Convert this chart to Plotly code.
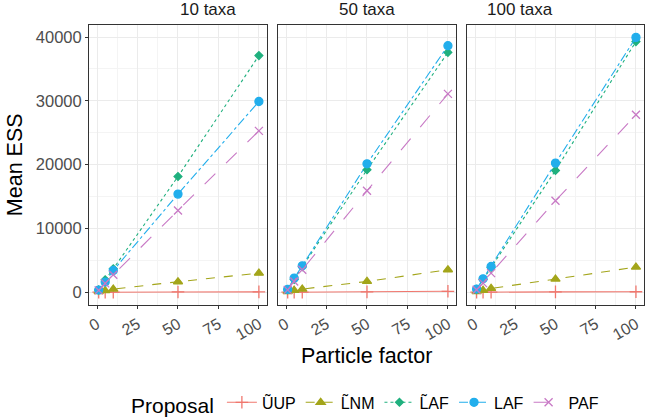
import plotly.graph_objects as go

panels = ["10 taxa", "50 taxa", "100 taxa"]
particle_factor = [1, 5, 10, 50, 100]
proposals = ["\u0168UP", "L\u0303NM", "L\u0303AF", "LAF", "PAF"]

ess_10 = {
    "\u0168UP": [10, 20, 30, 50, 60],
    "L\u0303NM": [100, 250, 500, 1650, 3000],
    "L\u0303AF": [370, 1960, 3680, 18150, 37100],
    "LAF": [350, 1600, 3420, 15390, 29900],
    "PAF": [300, 1400, 2740, 12830, 25300],
}
ess_50 = {
    "\u0168UP": [10, 20, 30, 60, 150],
    "L\u0303NM": [100, 300, 500, 1700, 3530],
    "L\u0303AF": [420, 2000, 4000, 19200, 37600],
    "LAF": [450, 2220, 4150, 20140, 38650],
    "PAF": [380, 1700, 3530, 15910, 31100],
}
ess_100 = {
    "\u0168UP": [10, 20, 30, 60, 80],
    "L\u0303NM": [100, 300, 600, 2070, 3950],
    "L\u0303AF": [450, 2000, 3900, 19100, 39300],
    "LAF": [500, 2110, 4050, 20250, 39950],
    "PAF": [400, 1440, 3000, 14340, 27820],
}
all_data = [ess_10, ess_50, ess_100]

x_ticks = [0, 25, 50, 75, 100]
y_ticks = [0, 10000, 20000, 30000, 40000]

colors = {"\u0168UP": "#F0776E", "L\u0303NM": "#A3A51A", "L\u0303AF": "#1FB07E",
          "LAF": "#22AEEC", "PAF": "#C879C5"}
dashes = {"\u0168UP": "solid", "L\u0303NM": "dash", "L\u0303AF": "dot",
          "LAF": "dashdot", "PAF": "longdash"}
symbols = {"\u0168UP": "cross-thin", "L\u0303NM": "triangle-up", "L\u0303AF": "diamond",
           "LAF": "circle", "PAF": "x-thin"}
sizes = {"\u0168UP": 9, "L\u0303NM": 8, "L\u0303AF": 6, "LAF": 8, "PAF": 8}

fig = go.Figure()
for i, data in enumerate(all_data):
    ax = "" if i == 0 else str(i + 1)
    for p in proposals:
        fig.add_trace(go.Scatter(
            x=particle_factor, y=data[p], mode="lines+markers", name=p,
            legendgroup=p, showlegend=(i == 0),
            xaxis="x" + ax, yaxis="y" + ax,
            line=dict(color=colors[p], dash=dashes[p], width=1.1),
            marker=dict(symbol=symbols[p], size=sizes[p], color=colors[p],
                        line=dict(color=colors[p], width=1.3)),
        ))

domains = [[0.0, 0.3207], [0.3405, 0.6613], [0.681, 1.0]]
font = "Liberation Sans, Arial, sans-serif"
layout = dict(
    width=646, height=420,
    paper_bgcolor="white", plot_bgcolor="white",
    margin=dict(l=89, r=2, t=25, b=115, autoexpand=False),
    font=dict(family=font, color="black"),
    showlegend=True,
    legend=dict(orientation="h", x=0.5, xanchor="center", y=-0.355, yanchor="middle",
                title=dict(text="Proposal", font=dict(size=21, color="black"), side="left"),
                font=dict(size=16, color="black"), itemwidth=30, tracegroupgap=0),
)
annotations = []
for i in range(3):
    ax = "" if i == 0 else str(i + 1)
    layout["xaxis" + ax] = dict(
        domain=domains[i], anchor="y" + ax, range=[-5, 105],
        tickvals=x_ticks, ticktext=[str(v) for v in x_ticks], tickangle=-30,
        ticks="outside", ticklen=3, tickcolor="#333333",
        tickfont=dict(size=16, color="#4D4D4D"),
        showline=True, linecolor="#333333", linewidth=1, mirror=True,
        showgrid=True, gridcolor="#EBEBEB", gridwidth=1, zeroline=False,
        minor=dict(tickvals=[12.5, 37.5, 62.5, 87.5], showgrid=True,
                   gridcolor="#F4F4F4", gridwidth=0.6),
    )
    layout["yaxis" + ax] = dict(
        domain=[0, 1], anchor="x" + ax, range=[-1995, 41895],
        tickvals=y_ticks, ticktext=[str(v) for v in y_ticks],
        ticks="outside" if i == 0 else "", ticklen=3, tickcolor="#333333",
        showticklabels=(i == 0), tickfont=dict(size=16.5, color="#4D4D4D"),
        showline=True, linecolor="#333333", linewidth=1, mirror=True,
        showgrid=True, gridcolor="#EBEBEB", gridwidth=1, zeroline=False,
        minor=dict(tickvals=[5000, 15000, 25000, 35000], showgrid=True,
                   gridcolor="#F4F4F4", gridwidth=0.6),
    )
    annotations.append(dict(text=panels[i], x=(domains[i][0] + domains[i][1]) / 2,
                            y=1.054, xref="paper", yref="paper", yanchor="middle",
                            showarrow=False, font=dict(size=17, color="#1A1A1A")))

annotations.append(dict(text="Mean ESS", x=-0.133, y=0.5, xref="paper", yref="paper",
                        textangle=-90, showarrow=False, font=dict(size=21.5, color="black"),
                        xanchor="center", yanchor="middle"))
annotations.append(dict(text="Particle factor", x=0.5, y=-0.182, xref="paper", yref="paper",
                        showarrow=False, font=dict(size=21.5, color="black"),
                        xanchor="center", yanchor="middle"))
layout["annotations"] = annotations
fig.update_layout(**layout)
fig.write_html("out.html", config={"displayModeBar": False},
               post_script="document.body.style.margin='0';document.body.style.padding='0';")
